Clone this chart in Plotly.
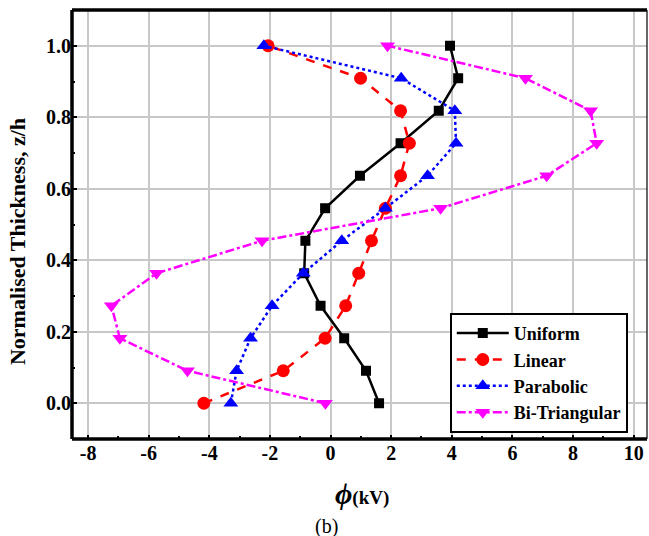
import plotly.graph_objects as go

# Normalised thickness positions (12 layers)
z_h = [0.0, 0.0909, 0.1818, 0.2727, 0.3636, 0.4545, 0.5455, 0.6364, 0.7273, 0.8182, 0.9091, 1.0]

# Electric potential phi (kV) for each loading case
phi_uniform = [1.60, 1.17, 0.45, -0.33, -0.87, -0.83, -0.18, 0.97, 2.31, 3.57, 4.21, 3.94]
phi_linear = [-4.18, -1.56, -0.18, 0.50, 0.93, 1.35, 1.81, 2.31, 2.60, 2.31, 0.99, -2.06]
phi_parabolic = [-3.29, -3.10, -2.64, -1.93, -0.90, 0.37, 1.81, 3.20, 4.14, 4.10, 2.33, -2.20]
phi_bitri = [-0.17, -4.72, -6.95, -7.23, -5.74, -2.26, 3.63, 7.13, 8.78, 8.58, 6.43, 1.88]

x_ticks = [-8, -6, -4, -2, 0, 2, 4, 6, 8, 10]
y_ticks = [0.0, 0.2, 0.4, 0.6, 0.8, 1.0]

SERIF = "Liberation Serif, Times New Roman, serif"

series = [
    ("Uniform", phi_uniform, "black", "solid", "square", 10),
    ("Linear", phi_linear, "red", "dash", "circle", 13),
    ("Parabolic", phi_parabolic, "blue", "dot", "triangle-up", 13),
    ("Bi-Triangular", phi_bitri, "magenta", "dashdot", "triangle-down", 13),
]

fig = go.Figure()
for name, xs, color, dash, symbol, size in series:
    fig.add_trace(go.Scatter(
        x=xs, y=z_h, name=f"<b>{name}</b>", mode="lines+markers",
        line=dict(color=color, width=2.5, dash=dash),
        marker=dict(color=color, symbol=symbol, size=size),
    ))

fig.update_layout(
    width=649, height=536,
    margin=dict(l=72, r=2, t=10, b=97),
    paper_bgcolor="white", plot_bgcolor="white",
    font=dict(family=SERIF, color="black"),
    showlegend=True,
    legend=dict(
        x=0.657, y=0.294, xanchor="left", yanchor="top",
        bgcolor="white", bordercolor="black", borderwidth=2,
        font=dict(family=SERIF, size=18, color="black"),
        tracegroupgap=0, itemwidth=52,
    ),
    xaxis=dict(
        range=[-8.53, 10.44],
        tickvals=x_ticks, ticktext=[f"<b>{v}</b>" for v in x_ticks],
        tickfont=dict(family=SERIF, size=20),
        showgrid=True, gridcolor="#c8c8c8", gridwidth=1.5,
        zeroline=False, showline=False,
        ticks="inside", ticklen=4, tickwidth=1.5, tickcolor="black",
        minor=dict(dtick=1, ticks="inside", ticklen=3, tickcolor="black", showgrid=False),
    ),
    yaxis=dict(
        range=[-0.1, 1.1],
        tickvals=y_ticks, ticktext=[f"<b>{v:.1f}</b>" for v in y_ticks],
        tickfont=dict(family=SERIF, size=20),
        showgrid=True, gridcolor="#c8c8c8", gridwidth=1.5,
        zeroline=False, showline=False,
        ticks="inside", ticklen=5, tickwidth=1.5, tickcolor="black",
        minor=dict(dtick=0.1, ticks="inside", ticklen=3, tickcolor="black", showgrid=False),
    ),
)

# Frame: heavy left, bottom and top edges, light right edge
frame = [
    (0, 0, 0, 1, 3.5),
    (0, 0, 1, 0, 3.5),
    (0, 1, 1, 1, 3.5),
    (1, 0, 1, 1, 1.2),
]
for x0, y0, x1, y1, w in frame:
    fig.add_shape(type="line", xref="paper", yref="paper",
                  x0=x0, y0=y0, x1=x1, y1=y1,
                  line=dict(color="black", width=w))

# Axis titles and caption
fig.add_annotation(
    xref="paper", yref="paper", x=-0.095, y=0.46,
    text="<b>Normalised Thickness, z/h</b>", textangle=-90, showarrow=False,
    font=dict(family=SERIF, size=22, color="black"),
    xanchor="center", yanchor="middle",
)
fig.add_annotation(
    xref="paper", yref="paper", x=0.505, y=-0.126,
    text="<b><i><span style='font-size:30px'>ϕ</span></i>(kV)</b>",
    showarrow=False, font=dict(family=SERIF, size=19, color="black"),
    xanchor="center", yanchor="middle",
)
fig.add_annotation(
    xref="paper", yref="paper", x=0.443, y=-0.203,
    text="(b)", showarrow=False,
    font=dict(family=SERIF, size=20, color="black"),
    xanchor="center", yanchor="middle",
)

fig.write_html("out.html")
